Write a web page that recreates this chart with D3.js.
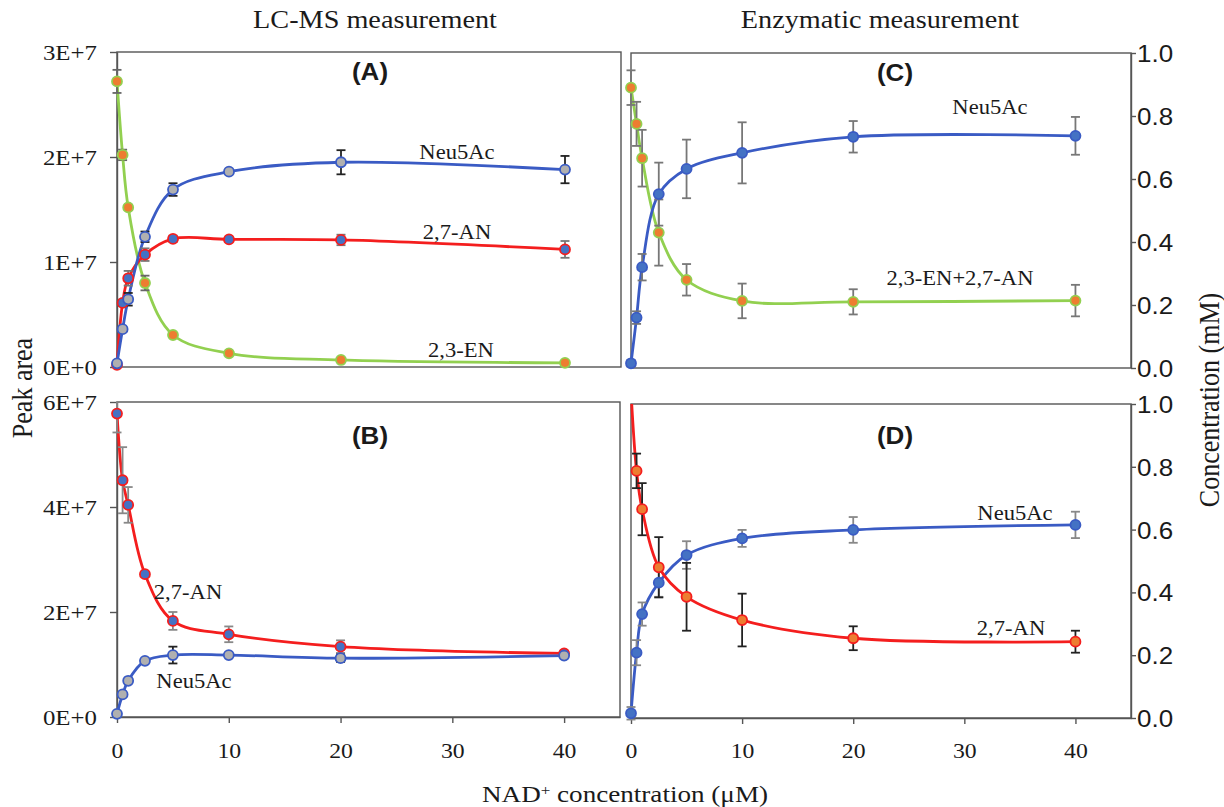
<!DOCTYPE html>
<html><head><meta charset="utf-8">
<script src="https://cdn.jsdelivr.net/npm/d3@7"></script>
<style>body{margin:0;background:#fff} svg{display:block}</style>
</head><body>
<svg id="chart" width="1224" height="807"></svg>
<script>
// ---------- data ----------
const nad = [0, 0.5, 1, 2.5, 5, 10, 20, 40];
const xTicks = [0, 10, 20, 30, 40];
const xTickLabels = ["0", "10", "20", "30", "40"];

const aTicks = [0, 1e7, 2e7, 3e7];
const aTickLabels = ["0E+0", "1E+7", "2E+7", "3E+7"];
const bTicks = [0, 2e7, 4e7, 6e7];
const bTickLabels = ["0E+0", "2E+7", "4E+7", "6E+7"];
const concTicks = [0, 0.2, 0.4, 0.6, 0.8, 1.0];
const concTickLabels = ["0.0", "0.2", "0.4", "0.6", "0.8", "1.0"];

// (A) LC-MS, NADH-free
const aNeu5Ac    = [0.35e6, 3.6e6, 6.45e6, 12.4e6, 16.9e6, 18.6e6, 19.5e6, 18.8e6];
const aNeu5AcErr = [0.1e6, 0.2e6, 0.6e6, 0.5e6, 0.6e6, 0.2e6, 1.15e6, 1.3e6];
const a27AN      = [0.2e6, 6.1e6, 8.45e6, 10.7e6, 12.2e6, 12.15e6, 12.1e6, 11.2e6];
const a27ANErr   = [0.1e6, 0.3e6, 0.7e6, 0.6e6, 0.3e6, 0.2e6, 0.5e6, 0.8e6];
const a23EN      = [27.2e6, 20.2e6, 15.2e6, 8.0e6, 3.05e6, 1.3e6, 0.67e6, 0.4e6];
const a23ENErr   = [1.1e6, 0.5e6, 0.2e6, 0.7e6, 0.1e6, 0.1e6, 0.1e6, 0.1e6];

// (B)
const b27AN      = [57.8e6, 45.1e6, 40.4e6, 27.2e6, 18.3e6, 15.75e6, 13.4e6, 12.1e6];
const b27ANErr   = [3.6e6, 6.3e6, 3.4e6, 0.4e6, 1.7e6, 1.5e6, 1.2e6, 0.4e6];
const bNeu5Ac    = [0.6e6, 4.3e6, 6.9e6, 10.7e6, 11.8e6, 11.8e6, 11.2e6, 11.7e6];
const bNeu5AcErr = [0.2e6, 0.3e6, 0.3e6, 0.3e6, 1.6e6, 0.2e6, 0.7e6, 0.3e6];

// (C) enzymatic
const cNeu5Ac    = [0.015, 0.16, 0.32, 0.552, 0.632, 0.683, 0.734, 0.737];
const cNeu5AcErr = [0.01, 0.02, 0.042, 0.1, 0.093, 0.097, 0.05, 0.06];
const cSum       = [0.89, 0.775, 0.666, 0.43, 0.28, 0.213, 0.21, 0.214];
const cSumErr    = [0.055, 0.07, 0.09, 0.105, 0.05, 0.055, 0.04, 0.05];

// (D)
const d27AN      = [1.04, 0.787, 0.665, 0.48, 0.386, 0.312, 0.254, 0.243];
const d27ANErr   = [0.03, 0.055, 0.083, 0.096, 0.108, 0.084, 0.038, 0.035];
const dNeu5Ac    = [0.015, 0.208, 0.331, 0.431, 0.519, 0.572, 0.599, 0.615];
const dNeu5AcErr = [0.02, 0.04, 0.037, 0.045, 0.044, 0.027, 0.041, 0.042];

// ---------- styles ----------
const BLUE = "#3a5bc4", RED = "#f41e1e", GREEN = "#92d050";
const FBLUE = "#4472c4", FGRAY = "#b0b0b0", FORANGE = "#ed7d31";
const AXIS = "#555";
const SERIF = '"Liberation Serif", "Times New Roman", serif';
const SANS = '"Liberation Sans", Arial, sans-serif';
const SX = 1.13; // horizontal stretch of glyphs in the reference

const svg = d3.select("#chart");

function txt(g, x, y, str, o = {}) {
  return g.append("text")
    .attr("transform", `translate(${x},${y}) scale(${SX},1)${o.rotate ? ` rotate(${o.rotate})` : ""}`)
    .attr("text-anchor", o.anchor || "middle")
    .attr("font-family", o.family || SERIF)
    .attr("font-size", o.size || 20)
    .attr("font-weight", o.weight || "normal")
    .attr("fill", o.fill || "#1a1a1a")
    .text(str);
}

const panels = [
  { id: "A", x0: 117, x1: 621, y0: 52, y1: 367, yDomain: [0, 3e7], side: "left",
    yTicks: aTicks, yLabels: aTickLabels, xAxis: false, tag: [370, 80],
    series: [
      { v: a23EN, e: a23ENErr, line: GREEN, fill: FORANGE, stroke: GREEN, err: "#666", name: "2,3-EN", lx: 461, ly: 357 },
      { v: a27AN, e: a27ANErr, line: RED, fill: FBLUE, stroke: RED, err: "#777", name: "2,7-AN", lx: 457, ly: 239 },
      { v: aNeu5Ac, e: aNeu5AcErr, line: BLUE, fill: FGRAY, stroke: BLUE, err: "#222", name: "Neu5Ac", lx: 457, ly: 159 }
    ] },
  { id: "B", x0: 117, x1: 620, y0: 402, y1: 717, yDomain: [0, 6e7], side: "left",
    yTicks: bTicks, yLabels: bTickLabels, xAxis: true, tag: [370, 444],
    series: [
      { v: b27AN, e: b27ANErr, line: RED, fill: FBLUE, stroke: RED, err: "#888", name: "2,7-AN", lx: 188, ly: 599 },
      { v: bNeu5Ac, e: bNeu5AcErr, line: BLUE, fill: FGRAY, stroke: BLUE, err: "#222", name: "Neu5Ac", lx: 194, ly: 688 }
    ] },
  { id: "C", x0: 631, x1: 1131, y0: 53, y1: 368, yDomain: [0, 1], side: "right",
    yTicks: concTicks, yLabels: concTickLabels, xAxis: false, tag: [895, 81],
    series: [
      { v: cSum, e: cSumErr, line: GREEN, fill: FORANGE, stroke: GREEN, err: "#777", name: "2,3-EN+2,7-AN", lx: 960, ly: 285 },
      { v: cNeu5Ac, e: cNeu5AcErr, line: BLUE, fill: FBLUE, stroke: BLUE, err: "#777", name: "Neu5Ac", lx: 990, ly: 114 }
    ] },
  { id: "D", x0: 631, x1: 1131, y0: 404, y1: 718, yDomain: [0, 1], side: "right",
    yTicks: concTicks, yLabels: concTickLabels, xAxis: true, tag: [895, 444],
    series: [
      { v: dNeu5Ac, e: dNeu5AcErr, line: BLUE, fill: FBLUE, stroke: BLUE, err: "#888", name: "Neu5Ac", lx: 1015, ly: 520 },
      { v: d27AN, e: d27ANErr, line: RED, fill: FORANGE, stroke: RED, err: "#222", name: "2,7-AN", lx: 1011, ly: 635 }
    ] }
];

panels.forEach(p => {
  const x = d3.scaleLinear().domain([0, 45]).range([p.x0, p.x1]);
  const y = d3.scaleLinear().domain(p.yDomain).range([p.y1, p.y0]);
  const g = svg.append("g");

  g.append("clipPath").attr("id", "clip" + p.id)
    .append("rect").attr("x", p.x0 - 8).attr("y", p.y0).attr("width", p.x1 - p.x0 + 8).attr("height", p.y1 - p.y0 + 8);

  // frame
  g.append("rect").attr("x", p.x0).attr("y", p.y0).attr("width", p.x1 - p.x0).attr("height", p.y1 - p.y0)
    .attr("fill", "none").attr("stroke", AXIS).attr("stroke-width", 1.4);

  // y axis
  const yAxis = (p.side === "left" ? d3.axisLeft(y) : d3.axisRight(y))
    .tickValues(p.yTicks).tickFormat((d, i) => p.yLabels[i]).tickSize(p.side === "left" ? 7 : 5).tickSizeOuter(0);
  const ya = g.append("g").attr("transform", `translate(${p.side === "left" ? p.x0 : p.x1},0)`).call(yAxis);
  ya.select(".domain").attr("stroke", AXIS).attr("stroke-width", 1.4);
  ya.selectAll(".tick line").attr("stroke", AXIS).attr("stroke-width", 1.4);
  ya.selectAll(".tick text")
    .attr("x", null).attr("dy", null)
    .attr("transform", p.side === "left" ? `translate(-20,7.5) scale(${SX},1)` : `translate(6,8.5) scale(${SX},1)`)
    .attr("text-anchor", p.side === "left" ? "end" : "start")
    .attr("font-family", p.side === "left" ? SERIF : SANS)
    .attr("font-size", p.side === "left" ? 22 : 23)
    .attr("fill", "#1a1a1a");

  if (p.xAxis) {
    const xAxis = d3.axisBottom(x).tickValues(xTicks).tickFormat((d, i) => xTickLabels[i]).tickSize(6).tickSizeOuter(0);
    const xa = g.append("g").attr("transform", `translate(0,${p.y1})`).call(xAxis);
    xa.select(".domain").attr("stroke", AXIS).attr("stroke-width", 1.4);
    xa.selectAll(".tick line").attr("stroke", AXIS).attr("stroke-width", 1.4);
    xa.selectAll(".tick text")
      .attr("y", null).attr("dy", null)
      .attr("transform", `translate(0,${758 - p.y1}) scale(${SX},1)`)
      .attr("font-family", SERIF).attr("font-size", 21).attr("fill", "#1a1a1a");
  }

  const line = d3.line().x((d, i) => x(nad[i])).y(d => y(d)).curve(d3.curveCatmullRom.alpha(0.5));
  const clipped = g.append("g").attr("clip-path", `url(#clip${p.id})`);

  p.series.forEach(s => {
    clipped.append("path").attr("d", line(s.v)).attr("fill", "none")
      .attr("stroke", s.line).attr("stroke-width", 2.8);
  });
  p.series.forEach(s => {
    const eb = clipped.append("g").attr("stroke", s.err).attr("stroke-width", 1.8);
    s.v.forEach((v, i) => {
      const xi = x(nad[i]), lo = y(v - s.e[i]), hi = y(v + s.e[i]);
      eb.append("line").attr("x1", xi).attr("x2", xi).attr("y1", lo).attr("y2", hi);
      eb.append("line").attr("x1", xi - 4.5).attr("x2", xi + 4.5).attr("y1", lo).attr("y2", lo);
      eb.append("line").attr("x1", xi - 4.5).attr("x2", xi + 4.5).attr("y1", hi).attr("y2", hi);
    });
  });
  p.series.forEach(s => {
    clipped.selectAll(null).data(s.v).enter().append("circle")
      .attr("cx", (d, i) => x(nad[i])).attr("cy", d => y(d)).attr("r", 5)
      .attr("fill", s.fill).attr("stroke", s.stroke).attr("stroke-width", 1.8);
  });
  p.series.forEach(s => txt(g, s.lx, s.ly, s.name, { size: 20 }));

  txt(g, p.tag[0], p.tag[1], `(${p.id})`, { family: SANS, weight: "bold", size: 23 });
});

// titles
txt(svg, 375, 28, "LC-MS measurement", { size: 25 });
txt(svg, 880, 28, "Enzymatic measurement", { size: 25 });
txt(svg, 32, 388, "Peak area", { size: 26, rotate: -90 });
txt(svg, 1219, 400, "Concentration (mM)", { size: 26, rotate: -90 });

const xt = txt(svg, 625, 802, "NAD", { size: 24 });
xt.append("tspan").attr("baseline-shift", "super").attr("font-size", 15).text("+");
xt.append("tspan").text(" concentration (\u03bcM)");
</script>
</body></html>
